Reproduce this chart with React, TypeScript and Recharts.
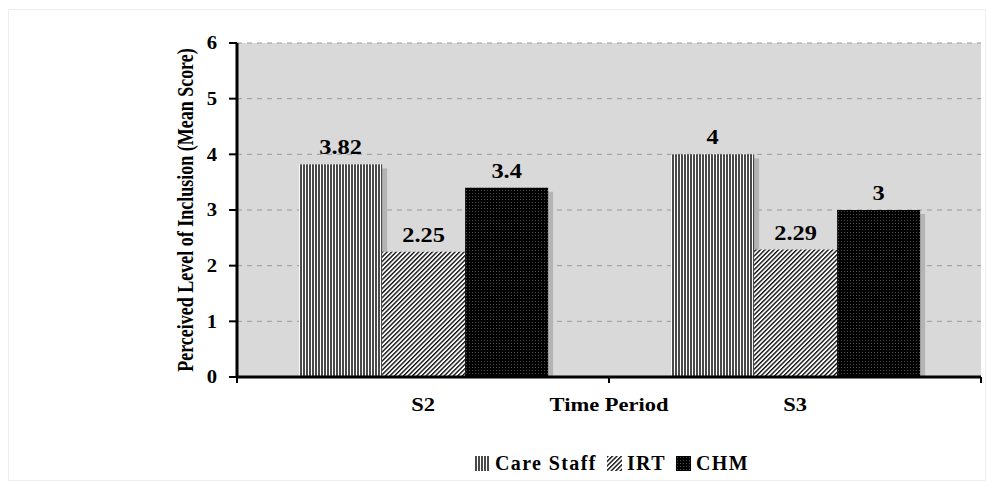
import { BarChart, Bar, XAxis, YAxis, CartesianGrid, Legend, LabelList } from "recharts";

const periods = ["S2", "S3"];
const careStaff = [3.82, 4];
const irt = [2.25, 2.29];
const chm = [3.4, 3];
const yTicks = [0, 1, 2, 3, 4, 5, 6];

const data = periods.map((p, i) => ({ period: p, careStaff: careStaff[i], irt: irt[i], chm: chm[i] }));

const series = [
  { key: "careStaff", name: "Care Staff", pattern: "pat-care" },
  { key: "irt", name: "IRT", pattern: "pat-irt" },
  { key: "chm", name: "CHM", pattern: "pat-chm" },
];

const FONT = '"Liberation Serif", "Times New Roman", serif';

// the original text is drawn a bit wider than normal, so stretch it sideways
const Wide = ({ x, y, sx = 1.25, size = 18, anchor = "middle", dy, children }: any) => (
  <text
    transform={`translate(${x},${y}) scale(${sx},1)`}
    textAnchor={anchor}
    dy={dy}
    fontFamily={FONT}
    fontWeight="bold"
    fontSize={size}
    fill="#000"
  >
    {children}
  </text>
);

// bar with the grey drop shadow seen in the original
const ShadowBar = (props: any) => {
  const { x, y, width, height, fill } = props;
  if (!height || height <= 0) return null;
  return (
    <g>
      <rect x={x + 5} y={y + 4} width={width} height={Math.max(height - 4, 0)} fill="#b4b4b4" />
      <rect x={x} y={y} width={width} height={height} fill={fill} />
    </g>
  );
};

// category ticks sit on the band edges, labels in the band middle
const XTick = (props: any) => {
  const { x, y, payload, index, visibleTicksCount, width } = props;
  const band = width / visibleTicksCount;
  const axisY = y - 22;
  return (
    <g>
      <line x1={x - band / 2} x2={x - band / 2} y1={axisY} y2={axisY + 6} stroke="#000" strokeWidth={2} />
      {index === visibleTicksCount - 1 && (
        <line x1={x + band / 2} x2={x + band / 2} y1={axisY} y2={axisY + 6} stroke="#000" strokeWidth={2} />
      )}
      <Wide x={x} y={axisY + 34}>
        {payload.value}
      </Wide>
    </g>
  );
};

const YTick = (props: any) => {
  const { x, y, payload } = props;
  return (
    <Wide x={x} y={y} anchor="end" dy="0.35em" sx={1.15}>
      {payload.value}
    </Wide>
  );
};

const XLabel = (props: any) => {
  const { viewBox } = props;
  return (
    <Wide x={viewBox.x + viewBox.width / 2} y={viewBox.y + 34}>
      Time Period
    </Wide>
  );
};

const YLabel = (props: any) => {
  const { viewBox } = props;
  const cx = viewBox.x + viewBox.width / 2;
  const cy = viewBox.y + viewBox.height / 2;
  return (
    <text
      transform={`translate(${cx},${cy}) scale(1.3,1) rotate(-90)`}
      textAnchor="middle"
      dy="0.35em"
      fontFamily={FONT}
      fontWeight="bold"
      fontSize={18}
      fill="#000"
    >
      Perceived Level of Inclusion (Mean Score)
    </text>
  );
};

const ValueLabel = (props: any) => {
  const { x, y, width, value } = props;
  return (
    <Wide x={x + width / 2} y={y - 10} size={20} sx={1.22}>
      {value}
    </Wide>
  );
};

const LegendContent = () => (
  <div
    style={{
      display: "flex",
      justifyContent: "center",
      alignItems: "center",
      fontFamily: FONT,
      fontWeight: "bold",
      fontSize: 20,
      letterSpacing: 1.4,
      color: "#000",
      height: 26,
    }}
  >
    {series.map((s, i) => (
      <span
        key={s.key}
        style={{ display: "flex", alignItems: "center", marginRight: i < series.length - 1 ? 10 : 0 }}
      >
        <svg width={15} height={15} style={{ marginRight: 5 }}>
          <rect x={0} y={0} width={15} height={15} fill={`url(#${s.pattern})`} />
        </svg>
        <span>{s.name}</span>
      </span>
    ))}
  </div>
);

export default function App() {
  return (
    <div style={{ position: "absolute", left: 0, top: 0, width: 986, height: 481, background: "#fff" }}>
      <div
        style={{ position: "absolute", left: 8, top: 9, width: 976, height: 470, border: "1px solid #eeeeee" }}
      />
      <BarChart
        width={986}
        height={481}
        data={data}
        margin={{ top: 43, right: 5, bottom: 64, left: 133 }}
        barCategoryGap="16.7%"
        barGap={0}
      >
        <defs>
          <pattern id="pat-care" patternUnits="userSpaceOnUse" width={3} height={4}>
            <rect x={0} y={0} width={3} height={4} fill="#ffffff" />
            <rect x={0} y={0} width={2} height={4} fill="#4a4a4a" />
          </pattern>
          <pattern id="pat-irt" patternUnits="userSpaceOnUse" width={3.2} height={4} patternTransform="rotate(45)">
            <rect x={0} y={0} width={3.2} height={4} fill="#ffffff" />
            <rect x={0} y={0} width={1.4} height={4} fill="#111111" />
          </pattern>
          <pattern id="pat-chm" patternUnits="userSpaceOnUse" width={3} height={3}>
            <rect x={0} y={0} width={3} height={3} fill="#000000" />
            <rect x={1} y={1} width={1} height={1} fill="#4a4a4a" />
          </pattern>
        </defs>
        <CartesianGrid vertical={false} strokeDasharray="5 5" stroke="#9a9a9a" fill="#d9d9d9" />
        <XAxis
          dataKey="period"
          height={40}
          tickLine={false}
          tickSize={6}
          tickMargin={16}
          axisLine={{ stroke: "#000", strokeWidth: 3 }}
          tick={<XTick />}
          label={<XLabel />}
        />
        <YAxis
          width={104}
          domain={[0, 6]}
          ticks={yTicks}
          interval={0}
          tickSize={8}
          tickMargin={12}
          axisLine={{ stroke: "#000", strokeWidth: 3 }}
          tickLine={{ stroke: "#000", strokeWidth: 2 }}
          tick={<YTick />}
          label={<YLabel />}
        />
        <Legend
          layout="horizontal"
          verticalAlign="middle"
          align="center"
          wrapperStyle={{ left: 240, top: 450, width: 744 }}
          content={<LegendContent />}
        />
        {series.map((s) => (
          <Bar
            key={s.key}
            dataKey={s.key}
            name={s.name}
            fill={`url(#${s.pattern})`}
            shape={<ShadowBar />}
            isAnimationActive={false}
          >
            <LabelList dataKey={s.key} content={<ValueLabel />} />
          </Bar>
        ))}
      </BarChart>
    </div>
  );
}
